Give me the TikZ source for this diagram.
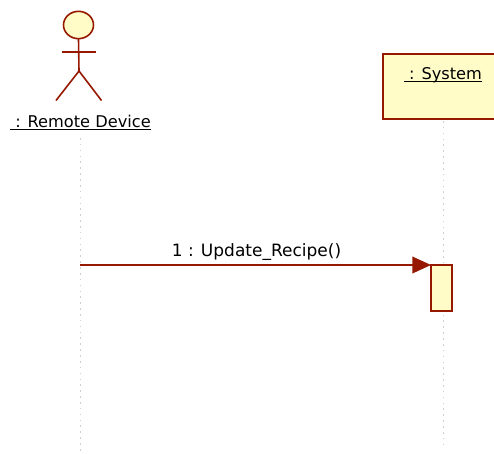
\documentclass[tikz,border=0pt]{standalone}
\usepackage{fontspec}
\setmainfont{DejaVu Sans}
\usetikzlibrary{arrows.meta,shapes.geometric}
\definecolor{umlred}{HTML}{961800}
\definecolor{umlfill}{HTML}{FFFCC8}
\definecolor{lifegrey}{HTML}{D0D0D0}
\tikzset{
  x=0.75pt,y=-0.75pt,
  umlline/.style={draw=umlred,line width=1.2pt},
  lifeline/.style={draw=lifegrey,line width=0.7pt,dash pattern=on 1.2pt off 3.2pt},
  umltext/.style={font=\fontsize{12.15pt}{14pt}\selectfont,inner sep=0pt,text=black,anchor=base},
  msgtext/.style={umltext,font=\fontsize{12.75pt}{14pt}\selectfont},
  activation/.style={umlline,fill=umlfill,inner sep=0pt,outer sep=0pt,minimum width=15.75pt,minimum height=34.5pt},
  message/.style={umlline,-{Triangle[length=14pt,width=12.5pt,fill=umlred]}}
}
\begin{document}
\begin{tikzpicture}
\useasboundingbox (0,0) rectangle (494,454);
\clip (0,0) rectangle (494,454);
% lifelines
\coordinate (devtop) at (80,138);
\coordinate (devbot) at (80,454);
\coordinate (systop) at (443,121);
\coordinate (sysbot) at (443,447);
\draw[lifeline] (devtop) -- (devbot);
\draw[lifeline] (systop) -- (sysbot);
% actor
\node[ellipse,umlline,fill=umlfill,minimum width=22.5pt,minimum height=20.5pt,inner sep=0pt,outer sep=0pt] (head) at (78.5,25) {};
\coordinate (hip) at (79,71);
\coordinate (armL) at (62,52);
\coordinate (armR) at (96,52);
\coordinate (footL) at (56,100.5);
\coordinate (footR) at (101.5,100.5);
\draw[umlline] (head.south) -- (hip);
\draw[umlline] (armL) -- (armR);
\draw[umlline] (footL) -- (hip) -- (footR);
\node[umltext] (devlabel) at (80.5,127) {\underline{\smash{\ : Remote Device}}};
% system box
\node[umlline,fill=umlfill,minimum width=90pt,minimum height=48.75pt,inner sep=0pt] (sys) at (443,86.5) {};
\node[umltext] (syslabel) at (443,79) {\underline{\smash{\ : System}}};
% activation
\node[activation] (act) at (441.5,288) {};
% message
\coordinate (msgstart) at (80,265);
\draw[message] (msgstart) -- (act.north west);
\node[msgtext] (msglabel) at (256.5,256.5) {1 : Update\_Recipe()};
\end{tikzpicture}
\end{document}
